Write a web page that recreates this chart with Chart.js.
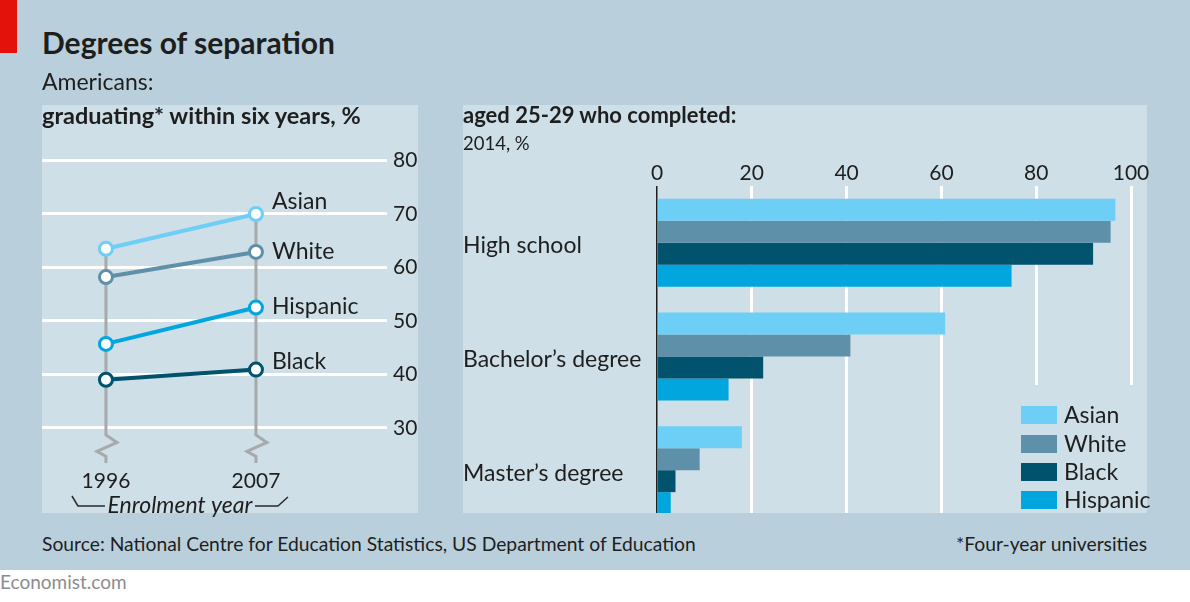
<!DOCTYPE html>
<html><head><meta charset="utf-8">
<script src="https://cdn.jsdelivr.net/npm/chart.js@4.4.1/dist/chart.umd.min.js"></script>
<style>
body{margin:0;width:1190px;height:602px;background:#fff;font-family:Lato,sans-serif;color:#1e1e1e;position:relative;overflow:hidden}
#bg{position:absolute;left:0;top:0;width:1190px;height:570px;background:#b9d0dc}
#red{position:absolute;left:0;top:0;width:17px;height:53px;background:#e3120b}
.t{position:absolute;white-space:nowrap;line-height:1;z-index:5}
.panel{position:absolute;background:#cedfe7}
.wrap{position:absolute}
canvas{display:block}
</style></head>
<body>
<div id="bg"></div>
<div id="red"></div>
<div class="panel" style="left:42px;top:105px;width:376px;height:408px"></div>
<div class="panel" style="left:463px;top:105px;width:684px;height:408px"></div>
<div class="t" style="left:42px;top:27px;font-size:30px;font-weight:700">Degrees of separation</div>
<div class="t" style="left:42px;top:70px;font-size:23px">Americans:</div>
<div class="t" style="left:42px;top:103.5px;font-size:23.5px;font-weight:700">graduating* within six years, %</div>
<div class="t" style="left:463px;top:104px;font-size:22px;font-weight:700">aged 25-29 who completed:</div>
<div class="t" style="left:463px;top:133.5px;font-size:18.5px">2014, %</div>
<div class="t" style="left:42px;top:534px;font-size:19.3px">Source: National Centre for Education Statistics, US Department of Education</div>
<div class="t" style="right:43px;top:534px;font-size:19.3px">*Four-year universities</div>
<div class="t" style="left:0px;top:572px;font-size:19px;color:#8c8c8c">Economist.com</div>

<div class="wrap" style="left:12px;top:105px;width:430px;height:420px"><canvas id="left" width="430" height="420"></canvas></div>
<div class="wrap" style="left:463px;top:105px;width:720px;height:436px;clip-path:inset(0px 0px 28px 0px)"><canvas id="right" width="720" height="436"></canvas></div>

<script>
// ---- Data: left chart (graduation within six years, %) ----
const years = [1996, 2007];
const gradGroups = ['Asian', 'White', 'Hispanic', 'Black'];
const asianGrad = [63.5, 70.0];
const whiteGrad = [58.2, 62.9];
const hispanicGrad = [45.7, 52.5];
const blackGrad = [39.0, 40.9];
const gradTicks = [30, 40, 50, 60, 70, 80];

// ---- Data: right chart (aged 25-29 who completed, 2014, %) ----
const levels = ['High school', 'Bachelor\u2019s degree', 'Master\u2019s degree'];
const compGroups = ['Asian', 'White', 'Black', 'Hispanic'];
const asianComp = [96.7, 60.8, 17.9];
const whiteComp = [95.7, 40.8, 9.0];
const blackComp = [92.0, 22.4, 3.9];
const hispanicComp = [74.8, 15.1, 2.9];
const compTicks = [0, 20, 40, 60, 80, 100];

const colors = {Asian: '#6dcff6', White: '#5e91a9', Black: '#00526d', Hispanic: '#00a6dd'};
const textColor = '#1e1e1e';
const panelColor = '#cedfe7';

Chart.defaults.font.family = 'Lato, sans-serif';
Chart.defaults.color = textColor;

// ---------- Left chart ----------
const gradValues = {Asian: asianGrad, White: whiteGrad, Hispanic: hispanicGrad, Black: blackGrad};
const labelOffsets = {Asian: -12, White: 0, Hispanic: -1, Black: -8};

const stemsPlugin = {
  id: 'stems',
  beforeDatasetsDraw(chart) {
    const ctx = chart.ctx, xs = chart.scales.x, ys = chart.scales.y;
    ctx.save();
    ctx.strokeStyle = '#a7a9ac';
    ctx.lineWidth = 3;
    ctx.lineJoin = 'miter';
    years.forEach((yr, i) => {
      const x = xs.getPixelForValue(yr);
      const topVal = Math.max(...gradGroups.map(g => gradValues[g][i]));
      const top = ys.getPixelForValue(topVal);
      const z = ys.getPixelForValue(30) + 7;
      ctx.beginPath();
      ctx.moveTo(x, top);
      ctx.lineTo(x, z);
      ctx.lineTo(x + 11, z + 7.5);
      ctx.lineTo(x - 9, z + 16.5);
      ctx.lineTo(x, z + 21.5);
      ctx.lineTo(x, z + 28);
      ctx.stroke();
    });
    ctx.restore();
  },
  afterDatasetsDraw(chart) {
    const ctx = chart.ctx;
    ctx.save();
    ctx.font = '23px Lato, sans-serif';
    ctx.fillStyle = textColor;
    ctx.textBaseline = 'middle';
    ctx.textAlign = 'left';
    chart.data.datasets.forEach((ds, di) => {
      const meta = chart.getDatasetMeta(di);
      const pt = meta.data[meta.data.length - 1];
      ctx.fillText(ds.label, pt.x + 16, pt.y + labelOffsets[ds.label]);
    });
    // Enrolment year bracket
    const xs = chart.scales.x;
    const x1 = xs.getPixelForValue(years[0]);
    const x2 = xs.getPixelForValue(years[1]);
    const by = 401;
    ctx.strokeStyle = '#2a2a2a';
    ctx.lineWidth = 1.5;
    ctx.beginPath();
    ctx.moveTo(x1 - 34, by - 10);
    ctx.lineTo(x1 - 28, by);
    ctx.lineTo(x1 - 1, by);
    ctx.moveTo(x2 - 1, by);
    ctx.lineTo(x2 + 22, by);
    ctx.lineTo(x2 + 32, by - 9);
    ctx.stroke();
    ctx.font = 'italic 23px Lato, sans-serif';
    ctx.textAlign = 'center';
    ctx.textBaseline = 'alphabetic';
    ctx.fillText('Enrolment year', (x1 + x2) / 2 - 1, 407.5);
    ctx.restore();
  }
};

new Chart(document.getElementById('left'), {
  type: 'line',
  data: {
    datasets: gradGroups.map(g => ({
      label: g,
      data: years.map((yr, i) => ({x: yr, y: gradValues[g][i]})),
      borderColor: colors[g],
      backgroundColor: '#ffffff',
      borderWidth: 4,
      pointRadius: 6.5,
      pointBorderWidth: 3,
      pointBackgroundColor: '#ffffff',
      pointBorderColor: colors[g],
      clip: false
    }))
  },
  options: {
    responsive: false,
    animation: false,
    devicePixelRatio: 1,
    layout: {padding: {top: 55.5, left: 30, right: 0, bottom: 0}},
    plugins: {legend: {display: false}, tooltip: {enabled: false}},
    scales: {
      x: {
        type: 'linear',
        min: 1991.31, max: 2016.61,
        afterBuildTicks: s => { s.ticks = years.map(v => ({value: v})); },
        afterFit: s => { s.height = 57; },
        grid: {display: false, drawTicks: false},
        border: {display: false},
        ticks: {font: {size: 21}, color: textColor, padding: 1, callback: v => String(v), maxRotation: 0}
      },
      y: {
        position: 'right',
        min: 22.5, max: 80,
        afterBuildTicks: s => { s.ticks = gradTicks.map(v => ({value: v})); },
        afterFit: s => { s.width = 55; },
        grid: {color: '#ffffff', lineWidth: 3, drawTicks: false},
        border: {display: false},
        ticks: {font: {size: 21}, color: textColor, padding: 6, crossAlign: 'near'}
      }
    }
  },
  plugins: [stemsPlugin]
});

// ---------- Right chart ----------
const compValues = {Asian: asianComp, White: whiteComp, Black: blackComp, Hispanic: hispanicComp};

const legendPlugin = {
  id: 'boxLegend',
  afterDraw(chart) {
    const ctx = chart.ctx;
    ctx.save();
    ctx.fillStyle = panelColor;
    ctx.fillRect(547, 280, 137, 142);
    const rows = [310, 339, 367, 395];
    ctx.font = '23px Lato, sans-serif';
    ctx.textBaseline = 'middle';
    ctx.textAlign = 'left';
    chart.data.datasets.forEach((ds, i) => {
      ctx.fillStyle = ds.backgroundColor;
      ctx.fillRect(558, rows[i] - 9, 36, 18);
      ctx.fillStyle = textColor;
      ctx.fillText(ds.label, 601, rows[i] + 1);
    });
    ctx.restore();
  }
};

new Chart(document.getElementById('right'), {
  type: 'bar',
  data: {
    labels: levels,
    datasets: compGroups.map(g => ({
      label: g,
      data: compValues[g],
      backgroundColor: colors[g],
      borderWidth: 0,
      categoryPercentage: 0.774,
      barPercentage: 1
    }))
  },
  options: {
    indexAxis: 'y',
    responsive: false,
    animation: false,
    devicePixelRatio: 1,
    layout: {padding: {top: 0, left: 0, right: 52, bottom: 14}},
    plugins: {legend: {display: false}, tooltip: {enabled: false}},
    scales: {
      x: {
        position: 'top',
        min: 0, max: 100,
        afterBuildTicks: s => { s.ticks = compTicks.map(v => ({value: v})); },
        afterFit: s => { s.height = 81; },
        grid: {
          color: c => (c.tick && c.tick.value === 0) ? '#1e1e1e' : '#ffffff',
          lineWidth: c => (c.tick && c.tick.value === 0) ? 1.5 : 3,
          drawTicks: false
        },
        border: {display: false},
        ticks: {font: {size: 21}, color: textColor, padding: 0, maxRotation: 0}
      },
      y: {
        position: 'left',
        afterFit: s => { s.width = 194; },
        grid: {display: false},
        border: {display: false},
        ticks: {font: {size: 23}, color: textColor, padding: 0, crossAlign: 'far', labelOffset: 3}
      }
    }
  },
  plugins: [legendPlugin]
});
</script>
</body></html>
